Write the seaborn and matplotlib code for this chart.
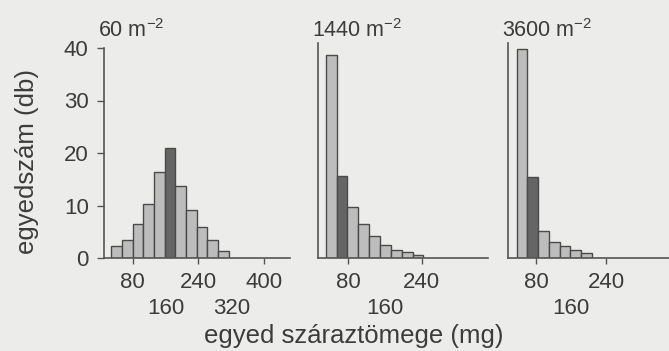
import matplotlib
matplotlib.use('Agg')
import matplotlib.pyplot as plt
import numpy as np
import pandas as pd
import seaborn as sns

# ── Data ───────────────────────────────────────────────────────────────────────
densities = ['60', '1440', '3600']

counts_60   = [2.2, 3.5, 6.5, 10.3, 16.4, 21.0, 13.8, 9.1, 6.0, 3.4, 1.3]
counts_1440 = [38.7, 15.6, 9.8, 6.5, 4.1, 2.5, 1.6, 1.1, 0.6]
counts_3600 = [39.8, 15.4, 5.2, 3.0, 2.2, 1.5, 0.95]
all_counts = [counts_60, counts_1440, counts_3600]

# first bin edge and bin width (mg) per panel
bin_start = [28, 31, 36]
bin_width = [26, 23.6, 24.5]

# modal class drawn dark
dark_bar = [5, 1, 1]

major_ticks = [[80, 240, 400], [80, 240], [80, 240]]
minor_ticks = [[160, 320], [160], [160]]
y_ticks = [0, 10, 20, 30, 40]

# ── Style ──────────────────────────────────────────────────────────────────────
sns.set_style('ticks')
plt.rcParams['font.family'] = ['Liberation Sans', 'DejaVu Sans']
plt.rcParams['mathtext.fontset'] = 'custom'
plt.rcParams['mathtext.rm'] = 'Liberation Sans'
plt.rcParams['mathtext.default'] = 'regular'

bg = '#ececea'
ink = '#3c3c3c'
light = '#bdbdbd'
dark = '#656565'
edge = '#4a4a4a'

W, H = 669, 351
panel_px = [(104, 186, (10, 463)), (318, 170, (14, 384)), (508, 161, (16, 384))]
bottom_px, height_px = 258, 215.25

fig = plt.figure(figsize=(W / 100, H / 100), dpi=100, facecolor=bg)

for i, counts in enumerate(all_counts):
    left, width, xlim = panel_px[i]
    ax = fig.add_axes([left / W, (H - bottom_px) / H, width / W, height_px / H])
    ax.set_facecolor('none')

    edges = bin_start[i] + bin_width[i] * np.arange(len(counts) + 1)
    df = pd.DataFrame({'mass': (edges[:-1] + edges[1:]) / 2, 'n': counts})
    sns.histplot(data=df, x='mass', weights='n', bins=edges.tolist(), ax=ax,
                 color=light, edgecolor=edge, linewidth=1, alpha=1)
    ax.patches[dark_bar[i]].set_facecolor(dark)

    ax.set_xlim(*xlim)
    ax.set_ylim(0, 41)
    ax.set_xlabel('')
    ax.set_ylabel('')
    for s in ['top', 'right']:
        ax.spines[s].set_visible(False)
    for s in ['left', 'bottom']:
        ax.spines[s].set_color('#555555')
        ax.spines[s].set_linewidth(1.2)

    ax.set_xticks(major_ticks[i])
    ax.set_xticklabels([str(t) for t in major_ticks[i]])
    ax.set_xticks(minor_ticks[i], minor=True)
    ax.set_xticklabels([str(t) for t in minor_ticks[i]], minor=True)
    ax.tick_params(axis='x', which='major', length=4, width=1, color='#555555',
                   pad=6, labelsize=16, labelcolor=ink)
    ax.tick_params(axis='x', which='minor', length=0, pad=29,
                   labelsize=16, labelcolor=ink)

    if i == 0:
        ax.set_yticks(y_ticks)
        ax.spines['left'].set_bounds(0, 40)
        ax.tick_params(axis='y', length=5, width=1, color='#555555',
                       pad=6, labelsize=16, labelcolor=ink)
    else:
        ax.set_yticks([])

    fig.text((left - 6) / W, (H - 37) / H, densities[i] + ' m$^{-2}$',
             fontsize=15.5, color=ink, va='baseline', ha='left')

fig.text(27 / W, (H - 162) / H, 'egyedszám (db)', rotation=90,
         fontsize=18.5, color=ink, ha='center', va='center')
fig.text(354 / W, (H - 336) / H, 'egyed száraztömege (mg)',
         fontsize=18.5, color=ink, ha='center', va='center')

plt.savefig('out.png', dpi=100, facecolor=bg)
plt.close()
